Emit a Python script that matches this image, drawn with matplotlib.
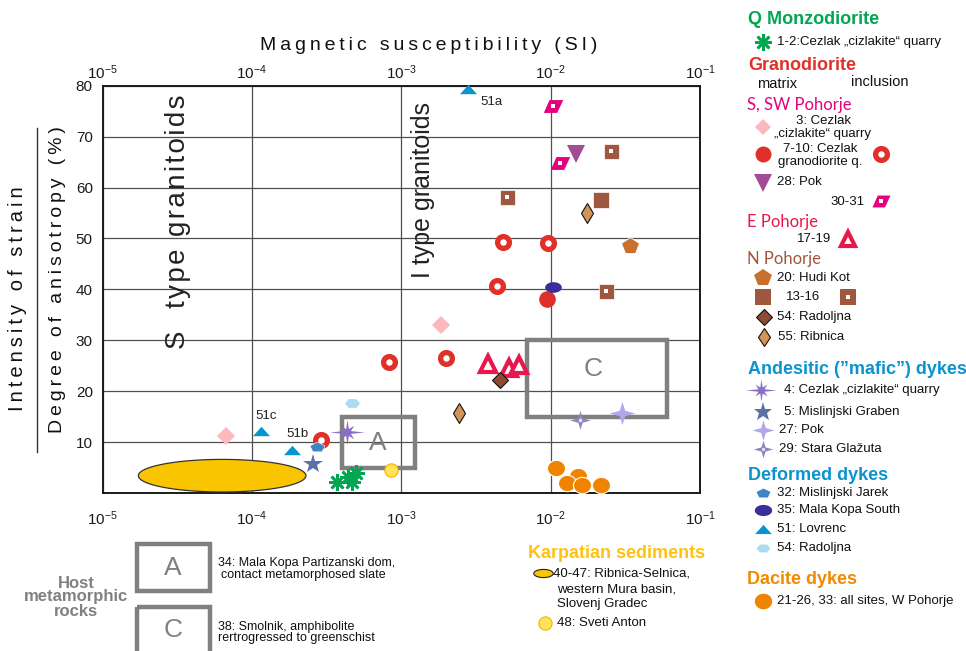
import numpy as np
import matplotlib
matplotlib.use("Agg")
import matplotlib.pyplot as plt
from matplotlib.path import Path
from matplotlib.patches import Rectangle
from matplotlib.ticker import NullLocator

plt.rcParams['font.family'] = ['Liberation Sans', 'DejaVu Sans']
plt.rcParams['mathtext.fontset'] = 'custom'
plt.rcParams['mathtext.rm'] = 'Liberation Sans'
plt.rcParams['mathtext.it'] = 'Liberation Sans:italic'
plt.rcParams['mathtext.bf'] = 'Liberation Sans:bold'

# ---------------------------------------------------------------- data
# magnetic susceptibility k (SI) and degree of anisotropy P (%)
decades = [1e-5, 1e-4, 1e-3, 1e-2, 1e-1]
decade_labels = [r'$\mathregular{10^{-5}}$', r'$\mathregular{10^{-4}}$',
                 r'$\mathregular{10^{-3}}$', r'$\mathregular{10^{-2}}$',
                 r'$\mathregular{10^{-1}}$']
p_ticks = [10, 20, 30, 40, 50, 60, 70, 80]

# Q monzodiorite, 1-2 Cezlak
qmz_k = [3.7e-4, 4.65e-4, 5.0e-4, 4.4e-4]
qmz_p = [2.2, 2.2, 3.9, 3.1]

# Granodiorite, S/SW Pohorje
cez3_k = [6.7e-5, 1.84e-3]
cez3_p = [11.2, 33.0]
cez710_mat_k = [9.5e-3]
cez710_mat_p = [38.1]
cez710_inc_k = [2.9e-4, 8.3e-4, 2.0e-3, 4.35e-3, 4.8e-3, 9.6e-3]
cez710_inc_p = [10.5, 25.8, 26.5, 40.7, 49.3, 49.1]
pok28_k = [0.0149]
pok28_p = [66.6]
s3031_k = [0.0103, 0.0115]
s3031_p = [76.0, 64.8]

# Granodiorite, E Pohorje
e1719_k = [3.8e-3, 5.3e-3, 6.1e-3]
e1719_p = [25.4, 24.6, 25.1]

# Granodiorite, N Pohorje
hudi20_k = [0.034]
hudi20_p = [48.6]
n1316_mat_k = [0.0217]
n1316_mat_p = [57.6]
n1316_inc_k = [5.1e-3, 0.0254, 0.0234]
n1316_inc_p = [58.1, 67.2, 39.7]
rad54_k = [4.6e-3]
rad54_p = [22.2]
rib55_k = [2.43e-3, 0.0174]
rib55_p = [15.8, 54.9]

# Andesitic ("mafic") dykes
and4_k = [4.35e-4]
and4_p = [12.0]
and5_k = [2.55e-4]
and5_p = [5.6]
and27_k = [0.030]
and27_p = [15.7]
and29_k = [0.0157]
and29_p = [14.3]

# Deformed dykes
def32_k = [2.72e-4]
def32_p = [9.1]
def35_k = [0.0103]
def35_p = [40.5]
def51_k = [2.79e-3, 1.15e-4, 1.86e-4]
def51_p = [79.3, 12.1, 8.5]
def51_names = ['51a', '51c', '51b']
def54_k = [4.66e-4]
def54_p = [17.7]

# Dacite dykes
dac_k = [0.0108, 0.0152, 0.0128, 0.0161, 0.0217]
dac_p = [4.85, 3.3, 1.9, 1.6, 1.6]

# Karpatian sediments: 40-47 field (centre in log10 k, half-width in decades)
karp_logk_centre = -4.199
karp_logk_half = 0.561
karp_p_centre = 3.4
karp_p_half = 3.2
anton48_k = [8.5e-4]
anton48_p = [4.5]

# host metamorphic rock fields
box_a_k = (4.0e-4, 1.24e-3)
box_a_p = (5.0, 15.0)
box_c_k = (7.0e-3, 6.0e-2)
box_c_p = (15.0, 30.0)

# ---------------------------------------------------------------- markers
def poly(verts):
    verts = np.asarray(verts, float)
    codes = [Path.MOVETO] + [Path.LINETO] * (len(verts) - 1) + [Path.CLOSEPOLY]
    return Path(np.vstack([verts, verts[:1]]), codes)


def star4(vert=0.9, inner=0.3):
    ang = np.deg2rad(np.arange(8) * 45.0)
    r = np.array([1, inner, vert, inner, 1, inner, vert, inner])
    return poly(np.c_[r * np.cos(ang), r * np.sin(ang)])


def star8():
    ang = np.deg2rad(np.arange(16) * 22.5)
    r = []
    for i in range(16):
        if i % 2:
            r.append(0.21)
        elif i % 8 == 0:
            r.append(1.0)
        elif i % 4 == 0:
            r.append(0.72)
        else:
            r.append(0.55)
    r = np.array(r)
    return poly(np.c_[r * np.cos(ang), r * np.sin(ang)])


def flat(path_verts, sy):
    v = np.asarray(path_verts, float)
    return poly(np.c_[v[:, 0], v[:, 1] * sy])


def ellipse_marker(ratio):
    t = np.linspace(0, 2 * np.pi, 60, endpoint=False)
    return poly(np.c_[np.cos(t), ratio * np.sin(t)])


pent = [(np.cos(a), np.sin(a)) for a in np.deg2rad(90 + np.arange(5) * 72)]
hexa = [(np.cos(a), np.sin(a)) for a in np.deg2rad(np.arange(6) * 60)]

M_PARA = poly([(-1, -0.66), (0.38, -0.66), (1, 0.66), (-0.41, 0.66)])
M_STAR4 = star4()
M_STAR8 = star8()
M_ELL = ellipse_marker(0.64)
M_TRI = poly([(-1, -0.55), (1, -0.55), (0, 0.55)])
M_HEX = flat(hexa, 0.66)
M_PENT = flat(pent, 0.68)
M_DOT = ellipse_marker(0.9)
M_KARP = ellipse_marker(0.42)
M_AST = (8, 2, 0)

RED = '#e0302a'
PINK = '#fbb8bd'
MAGENTA = '#e6007e'
PURPLE = '#a24c94'
CRIMSON = '#e8184c'
BROWN = '#a0573f'
ORANGE_BR = '#c8702e'
DBROWN = '#8e4b34'
TAN = '#d39457'
GREEN = '#00a651'
BLUE = '#0b93cf'
GRAY = '#808080'

# ---------------------------------------------------------------- figure
fig = plt.figure(figsize=(9.66, 6.51), dpi=100)
ax = fig.add_axes([102.5 / 966, 1 - 493 / 651, 597.5 / 966, 407.3 / 651])
ax.set_xscale('log')
ax.set_xlim(1e-5, 1e-1)
ax.set_ylim(0, 80)
ax.set_xticks(decades)
ax.set_xticklabels(decade_labels)
ax.xaxis.set_minor_locator(NullLocator())
ax.set_yticks(p_ticks)
ax.grid(True, color='#505050', lw=0.9)
ax.set_axisbelow(True)
for sp in ax.spines.values():
    sp.set_linewidth(1.4)
    sp.set_color('#1a1a1a')
ax.tick_params(axis='x', length=0, labelsize=11, pad=11.5, colors='#1a1a1a')
ax.tick_params(axis='y', length=0, labelsize=11, pad=7, colors='#1a1a1a')

# the same decade labels along the top edge, set closer to the frame
top = ax.secondary_xaxis('top')
top.set_xticks(decades)
top.set_xticklabels(decade_labels)
top.xaxis.set_minor_locator(NullLocator())
top.tick_params(axis='x', length=0, labelsize=11, pad=2.5, colors='#1a1a1a')
top.spines['top'].set_visible(False)


def pm(x, y, marker, ms, fc, ec='none', ew=0.0, z=5):
    ax.plot(x, y, ls='none', marker=marker, ms=ms, mfc=fc, mec=ec, mew=ew,
            zorder=z, clip_on=False)


# host rock fields
for (k0, k1), (p0, p1) in [(box_a_k, box_a_p), (box_c_k, box_c_p)]:
    ax.add_patch(Rectangle((k0, p0), k1 - k0, p1 - p0, fill=False, ec=GRAY,
                           lw=3.2, zorder=2))
ax.text(7.0e-4, 9.8, 'A', color=GRAY, fontsize=19, ha='center', va='center', zorder=2)
ax.text(0.0193, 24.3, 'C', color=GRAY, fontsize=19, ha='center', va='center', zorder=2)

# Karpatian 40-47 field
t = np.linspace(0, 2 * np.pi, 200)
ax.fill(10 ** (karp_logk_centre + karp_logk_half * np.cos(t)),
        karp_p_centre + karp_p_half * np.sin(t),
        fc='#f9c500', ec='#333333', lw=0.9, zorder=3, clip_on=False)

# granitoid type labels
HS = '\u200a'
ax.text(0.126, 0.665, HS.join('S  type granitoids'), transform=ax.transAxes,
        rotation=90, fontsize=20, ha='center', va='center', color='#222222')
ax.text(0.536, 0.744, 'I type granitoids', transform=ax.transAxes, rotation=90,
        fontsize=18, ha='center', va='center', color='#222222')

# points
pm(qmz_k, qmz_p, M_AST, 12, GREEN, GREEN, 1.9, 6)
pm(cez3_k, cez3_p, 'D', 9.2, PINK)
pm(cez710_mat_k, cez710_mat_p, 'o', 12, RED)
pm(cez710_inc_k, cez710_inc_p, 'o', 8.5, 'white', RED, 3.8)
pm(pok28_k, pok28_p, 'v', 13.5, PURPLE)
pm(s3031_k, s3031_p, M_PARA, 14, MAGENTA)
pm(s3031_k, s3031_p, 's', 3.0, 'white', z=6)
pm(e1719_k, e1719_p, '^', 11, 'white', CRIMSON, 3.0)
pm(hudi20_k, hudi20_p, 'p', 13, ORANGE_BR, 'white', 0.6)
pm(n1316_mat_k, n1316_mat_p, 's', 11.3, BROWN, 'white', 0.5)
pm(n1316_inc_k, n1316_inc_p, 's', 10.8, BROWN, 'white', 0.5)
pm(n1316_inc_k, n1316_inc_p, 's', 2.8, 'white', z=6)
pm(rad54_k, rad54_p, 'D', 7.7, DBROWN, '#111111', 0.8)
pm(rib55_k, rib55_p, 'd', 9.8, TAN, '#111111', 0.8)
pm(and4_k, and4_p, M_STAR8, 25, '#8a6cc9', z=7)
pm(and5_k, and5_p, '*', 15, '#5b72a8')
pm(and27_k, and27_p, M_STAR4, 18.5, '#b4a6ea', z=7)
pm(and29_k, and29_p, M_STAR4, 15, '#8c87ba', z=7)
pm(and29_k, and29_p, 'o', 2.6, '#e6e3f5', z=8)
pm(def32_k, def32_p, M_PENT, 10.8, '#3d86c6', 'white', 0.4)
pm(def35_k, def35_p, M_ELL, 12, '#3a2e9a', z=6)
pm(def51_k, def51_p, M_TRI, 12.3, BLUE)
pm(def54_k, def54_p, M_HEX, 11, '#a9dcf2')
pm(dac_k, dac_p, M_DOT, 13, '#f08300', 'white', 0.8)
pm(anton48_k, anton48_p, 'o', 9.6, '#ffe35a', '#f5b400', 0.8, 6)

for k, p, name in zip(def51_k, def51_p, def51_names):
    if name == '51a':
        ax.annotate(name, (k, p), xytext=(9, -9), textcoords='offset points',
                    fontsize=9.5, ha='left', va='center', color='#222222')
    else:
        ax.annotate(name, (k, p), xytext=(4, 11), textcoords='offset points',
                    fontsize=9.5, ha='center', va='center', color='#222222')

# axis titles with tracked lettering
TS = '\u2009'


def tracked(s):
    return TS.join(list(s))


fig.text(429 / 966, 1 - 45 / 651, tracked('Magnetic susceptibility (SI)'),
         fontsize=14, ha='center', va='center', color='#111111')
fig.text(18 / 966, 1 - 299 / 651, tracked('Intensity of strain'), rotation=90,
         fontsize=14.5, ha='center', va='center', color='#111111')
fig.text(57 / 966, 1 - 280 / 651, tracked('Degree of anisotropy (%)'), rotation=90,
         fontsize=14, ha='center', va='center', color='#111111')

# ---------------------------------------------------------------- legend (pixel frame)
lax = fig.add_axes([0, 0, 1, 1], zorder=5)
lax.set_xlim(0, 966)
lax.set_ylim(651, 0)
lax.axis('off')

lax.plot([37, 37], [128, 452], color='#333333', lw=1.0)


def lm(x, y, marker, ms, fc, ec='none', ew=0.0, z=5):
    lax.plot([x], [y], ls='none', marker=marker, ms=ms, mfc=fc, mec=ec, mew=ew,
             zorder=z, clip_on=False)


def lt(x, y, s, size=9.5, color='#111111', weight='normal', ha='left', family=None):
    kw = {}
    if family:
        kw['family'] = family
    lax.text(x, y, s, fontsize=size, color=color, fontweight=weight, ha=ha,
             va='center', **kw)


HEAD = 13
SUB = ['Lato', 'DejaVu Sans']

lt(748, 19, 'Q Monzodiorite', HEAD, GREEN, 'bold')
lm(763, 42, M_AST, 12, GREEN, GREEN, 1.9)
lt(777, 42, '1-2:Cezlak \u201ecizlakite\u201c quarry')

lt(748, 66, 'Granodiorite', HEAD, RED, 'bold')
lt(757, 84, 'matrix', 10.5)
lt(851, 82, 'inclusion', 10.5)

lt(747, 105, 'S, SW Pohorje', 12, MAGENTA, family=SUB)
lm(763, 127, 'D', 8.5, PINK)
lt(823, 121, '3: Cezlak', ha='center')
lt(822, 134, '\u201ecizlakite\u201c quarry', ha='center')
lm(763, 154, 'o', 11.5, RED)
lt(820, 149, '7-10: Cezlak', ha='center')
lt(820, 162, 'granodiorite q.', ha='center')
lm(881, 154, 'o', 8.5, 'white', RED, 3.8)
lm(763, 183, 'v', 13, PURPLE)
lt(777, 182, '28: Pok')
lt(830, 202, '30-31')
lm(881, 201, M_PARA, 13, MAGENTA)
lm(881, 201, 's', 2.8, 'white', z=6)

lt(747, 222, 'E Pohorje', 12, CRIMSON, family=SUB)
lt(797, 239, '17-19')
lm(848, 239, '^', 10.5, 'white', CRIMSON, 3.0)

lt(747, 259, 'N Pohorje', 12, BROWN, family=SUB)
lm(763, 278, 'p', 13, ORANGE_BR)
lt(777, 278, '20: Hudi Kot')
lm(763, 297, 's', 11, BROWN)
lt(786, 297, '13-16')
lm(848, 297, 's', 11, BROWN)
lm(848, 297, 's', 2.8, 'white', z=6)
lm(764, 317, 'D', 7.7, DBROWN, '#111111', 0.8)
lt(777, 317, '54: Radoljna')
lm(764, 337, 'd', 9.5, TAN, '#111111', 0.8)
lt(778, 337, '55: Ribnica')

lt(748, 369, 'Andesitic (\u201dmafic\u201d) dykes', HEAD, BLUE, 'bold')
lm(761, 390, M_STAR8, 22, '#8a6cc9')
lt(784, 390, '4: Cezlak \u201ecizlakite\u201c quarry')
lm(763, 412, '*', 14, '#5b72a8')
lt(784, 412, '5: Mislinjski Graben')
lm(763, 430, M_STAR4, 16, '#b4a6ea')
lt(779, 430, '27: Pok')
lm(763, 449, M_STAR4, 14, '#8c87ba')
lm(763, 449, 'o', 2.4, '#e6e3f5', z=6)
lt(779, 449, '29: Stara Gla\u017euta')

lt(748, 476, 'Deformed dykes', HEAD, BLUE, 'bold')
lm(763, 493, M_PENT, 10, '#3d86c6')
lt(777, 493, '32: Mislinjski Jarek')
lm(763, 510, M_ELL, 12.5, '#3a2e9a')
lt(777, 510, '35: Mala Kopa South')
lm(763, 529, M_TRI, 12, BLUE)
lt(777, 529, '51: Lovrenc')
lm(763, 548, M_HEX, 10, '#a9dcf2')
lt(777, 548, '54: Radoljna')

lt(747, 580, 'Dacite dykes', HEAD, '#f08a00', 'bold')
lm(763, 601, M_DOT, 12.5, '#f08300')
lt(777, 601, '21-26, 33: all sites, W Pohorje')

# host metamorphic rocks key
for y, s in [(583, 'Host'), (597, 'metamorphic'), (611, 'rocks')]:
    lt(76, y, s, 12, GRAY, 'bold', ha='center')
lax.add_patch(Rectangle((137, 544), 73, 47, fill=False, ec=GRAY, lw=3.2))
lax.add_patch(Rectangle((137, 607), 73, 60, fill=False, ec=GRAY, lw=3.2))
lax.text(173, 568, 'A', color=GRAY, fontsize=19, ha='center', va='center')
lax.text(173, 630, 'C', color=GRAY, fontsize=19, ha='center', va='center')
lt(218, 563, '34: Mala Kopa Partizanski dom,', 9)
lt(221, 575, 'contact metamorphosed slate', 9)
lt(218, 627, '38: Smolnik, amphibolite', 9)
lt(218, 638, 'rertrogressed to greenschist', 9)

# Karpatian sediments key
lt(528, 553, 'Karpatian sediments', HEAD, '#ffc20e', 'bold')
lm(543, 573, M_KARP, 14, '#f9c500', '#222222', 0.8)
lt(553, 573, '40-47: Ribnica-Selnica,', 9.5)
lt(557, 589, 'western Mura basin,', 9.5)
lt(557, 604, 'Slovenj Gradec', 9.5)
lm(545, 623, 'o', 9.5, '#ffe35a', '#f5b400', 0.8)
lt(557, 623, '48: Sveti Anton', 9.5)

fig.savefig('out.png', dpi=100)
